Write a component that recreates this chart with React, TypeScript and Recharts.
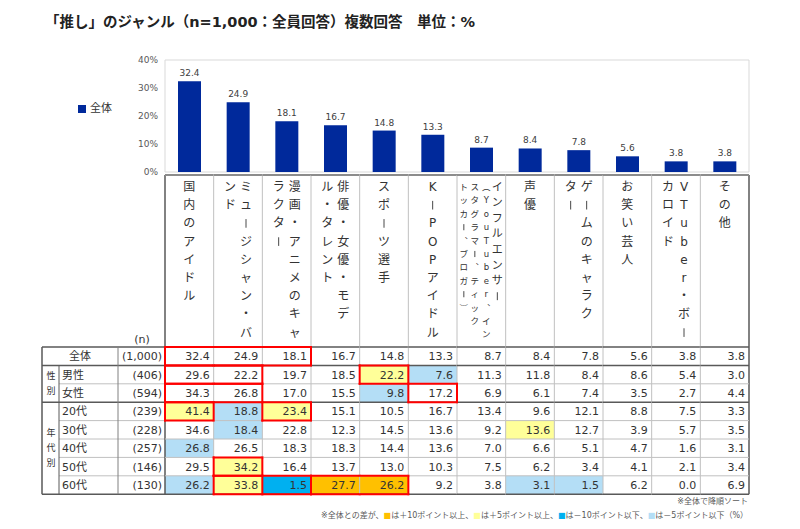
import React from "react";
import { BarChart, Bar, XAxis, YAxis, Legend, LabelList, ReferenceArea } from "recharts";

const categories = [
  "国内のアイドル",
  "ミュージシャン・バンド",
  "漫画・アニメのキャラクター",
  "俳優・女優・モデル・タレント",
  "スポーツ選手",
  "K-POPアイドル",
  "インフルエンサー（YouTuber、インスタグラマー、ティックトッカー、ブロガー）",
  "声優",
  "ゲームのキャラクター",
  "お笑い芸人",
  "VTuber・ボーカロイド",
  "その他",
];

// how each header is wrapped into vertical text columns (right to left)
const headerLines = [
  ["国内のアイドル"],
  ["ミュージシャン・バ", "ンド"],
  ["漫画・アニメのキャ", "ラクター"],
  ["俳優・女優・モデ", "ル・タレント"],
  ["スポーツ選手"],
  ["K-POPアイドル"],
  ["インフルエンサー", "（YouTuber、イン", "スタグラマー、ティック", "トッカー、ブロガー）"],
  ["声優"],
  ["ゲームのキャラク", "ター"],
  ["お笑い芸人"],
  ["VTuber・ボー", "カロイド"],
  ["その他"],
];

const overall = [32.4, 24.9, 18.1, 16.7, 14.8, 13.3, 8.7, 8.4, 7.8, 5.6, 3.8, 3.8];
const male = [29.6, 22.2, 19.7, 18.5, 22.2, 7.6, 11.3, 11.8, 8.4, 8.6, 5.4, 3.0];
const female = [34.3, 26.8, 17.0, 15.5, 9.8, 17.2, 6.9, 6.1, 7.4, 3.5, 2.7, 4.4];
const age20s = [41.4, 18.8, 23.4, 15.1, 10.5, 16.7, 13.4, 9.6, 12.1, 8.8, 7.5, 3.3];
const age30s = [34.6, 18.4, 22.8, 12.3, 14.5, 13.6, 9.2, 13.6, 12.7, 3.9, 5.7, 3.5];
const age40s = [26.8, 26.5, 18.3, 18.3, 14.4, 13.6, 7.0, 6.6, 5.1, 4.7, 1.6, 3.1];
const age50s = [29.5, 34.2, 16.4, 13.7, 13.0, 10.3, 7.5, 6.2, 3.4, 4.1, 2.1, 3.4];
const age60s = [26.2, 33.8, 1.5, 27.7, 26.2, 9.2, 3.8, 3.1, 1.5, 6.2, 0.0, 6.9];

const rowLabels = ["全体", "男性", "女性", "20代", "30代", "40代", "50代", "60代"];
const rowCounts = ["(1,000)", "(406)", "(594)", "(239)", "(228)", "(257)", "(146)", "(130)"];
const rows = [overall, male, female, age20s, age30s, age40s, age50s, age60s];

// red outlines: [row, first column, last column]
const redBoxes = [
  [0, 0, 2], [1, 0, 1], [1, 4, 4], [2, 0, 1], [2, 5, 5], [3, 0, 0], [3, 2, 2],
  [6, 1, 1], [7, 1, 1], [7, 2, 2], [7, 3, 4],
];

const chartData = categories.map((name, i) => ({ name, overall: overall[i] }));

const FONT = '"DejaVu Sans", "Noto Sans CJK JP", sans-serif';
const PLOT_LEFT = 165;
const PLOT_RIGHT = 749;
const BAND = (PLOT_RIGHT - PLOT_LEFT) / categories.length;
const HEAD_TOP = 175;
const BODY_TOP = 347;
const ROW_H = 18.4;
const rowY = (r: number) => BODY_TOP + r * ROW_H;
const TABLE_BOTTOM = rowY(rows.length);
const DARK = "#595959";
const GRID = "#c0c0c0";
const RED = "#ff0000";
const TEXT = "#333333";
const darkLines = new Set([0, 1, 3, rows.length]);

const VERT: Record<string, string> = { "（": "︵", "）": "︶", "、": "︑" };

function shade(r: number, c: number) {
  if (r === 0) return null;
  const d = Math.round((rows[r][c] - overall[c]) * 10) / 10;
  if (d >= 10) return "#ffc000";
  if (d >= 5) return "#ffff99";
  if (d <= -10) return "#00b0f0";
  if (d <= -5) return "#b4def6";
  return null;
}

function boxOf(r: number, c: number) {
  if (r < 0 || r >= rows.length || c < 0 || c >= categories.length) return -1;
  return redBoxes.findIndex(([br, from, to]) => br === r && c >= from && c <= to);
}

function VChar({ ch, x, y, fs }: { ch: string; x: number; y: number; fs: number }) {
  // long vowel marks and hyphens turn into a vertical stroke in vertical text
  if (ch === "ー" || ch === "-") {
    return <line x1={x} x2={x} y1={y - fs * 0.36} y2={y + fs * 0.36} stroke={TEXT} strokeWidth={0.9} />;
  }
  return (
    <text x={x} y={y} fontSize={fs} textAnchor="middle" dominantBaseline="central" fill={TEXT}>
      {VERT[ch] ?? ch}
    </text>
  );
}

function ColumnTick(props: any) {
  const { x, payload } = props;
  const c = categories.indexOf(payload.value);
  if (c < 0) return <g />;
  const left = x - BAND / 2;
  const right = x + BAND / 2;
  const last = c === categories.length - 1;
  const lines = headerLines[c];
  const wide = lines.length > 2;
  const els: React.ReactNode[] = [];

  lines.forEach((line, li) => {
    const small = wide && li > 0;
    const fs = wide ? (small ? 8.5 : 11) : 12;
    const step = wide ? (small ? 13.4 : 15.6) : 18.2;
    const lx = wide ? x + [16, 5, -6.5, -17.5][li] : x + ((lines.length - 1) / 2 - li) * 16;
    Array.from(line).forEach((ch, k) => {
      els.push(<VChar key={`h${li}-${k}`} ch={ch} x={lx} y={187 + k * step} fs={fs} />);
    });
  });

  rows.forEach((vals, r) => {
    const fill = shade(r, c);
    if (fill) {
      els.push(<rect key={`f${r}`} x={left} y={rowY(r)} width={BAND} height={ROW_H} fill={fill} />);
    }
  });

  els.push(<line key="vl" x1={left} x2={left} y1={HEAD_TOP} y2={TABLE_BOTTOM} stroke={c === 0 ? DARK : GRID} strokeWidth={c === 0 ? 1.5 : 1} />);
  if (last) {
    els.push(<line key="vr" x1={right} x2={right} y1={HEAD_TOP} y2={TABLE_BOTTOM} stroke={DARK} strokeWidth={1.5} />);
  }
  for (let i = 0; i <= rows.length; i++) {
    const dark = darkLines.has(i);
    els.push(<line key={`hl${i}`} x1={left} x2={right} y1={rowY(i)} y2={rowY(i)} stroke={dark ? DARK : GRID} strokeWidth={dark ? 1.5 : 1} />);
  }
  els.push(<line key="top" x1={left} x2={right} y1={HEAD_TOP} y2={HEAD_TOP} stroke="#8c8c8c" strokeWidth={2} />);

  rows.forEach((vals, r) => {
    els.push(
      <text key={`v${r}`} x={right - 4} y={rowY(r) + ROW_H / 2 + 0.5} fontSize={11} textAnchor="end"
        dominantBaseline="central" fill={TEXT}>
        {vals[c].toFixed(1)}
      </text>
    );
  });

  rows.forEach((_, r) => {
    const b = boxOf(r, c);
    const bl = boxOf(r, c - 1);
    const top = rowY(r);
    const bottom = rowY(r + 1);
    if (b !== bl && (b >= 0 || bl >= 0)) {
      els.push(<line key={`rl${r}`} x1={left} x2={left} y1={top} y2={bottom} stroke={RED} strokeWidth={2} strokeLinecap="square" />);
    }
    if (last && b >= 0) {
      els.push(<line key={`rr${r}`} x1={right} x2={right} y1={top} y2={bottom} stroke={RED} strokeWidth={2} strokeLinecap="square" />);
    }
    if (b >= 0 && boxOf(r - 1, c) !== b) {
      els.push(<line key={`rt${r}`} x1={left} x2={right} y1={top} y2={top} stroke={RED} strokeWidth={2} strokeLinecap="square" />);
    }
    if (b >= 0 && boxOf(r + 1, c) !== b) {
      els.push(<line key={`rb${r}`} x1={left} x2={right} y1={bottom} y2={bottom} stroke={RED} strokeWidth={2} strokeLinecap="square" />);
    }
  });

  return <g>{els}</g>;
}

function Frame() {
  const groups = [
    { label: "性別", from: 1, to: 3 },
    { label: "年代別", from: 3, to: 8 },
  ];
  return (
    <svg width={800} height={529} style={{ position: "absolute", left: 0, top: 0 }}>
      <text x={45} y={27} fontSize={14.5} fontWeight="bold" fill="#222">
        「推し」のジャンル（n=1,000：全員回答）複数回答　単位：%
      </text>
      <text x={142} y={339} fontSize={11} textAnchor="middle" dominantBaseline="central" fill={TEXT}>(n)</text>

      {rowLabels.map((label, r) => (
        <g key={label}>
          <text x={r === 0 ? 80 : 62} y={rowY(r) + ROW_H / 2 + 0.5} fontSize={11}
            textAnchor={r === 0 ? "middle" : "start"} dominantBaseline="central" fill={TEXT}>
            {label}
          </text>
          <text x={162} y={rowY(r) + ROW_H / 2 + 0.5} fontSize={11} textAnchor="end"
            dominantBaseline="central" fill={TEXT}>
            {rowCounts[r]}
          </text>
        </g>
      ))}

      {groups.map((g) => {
        const mid = (rowY(g.from) + rowY(g.to)) / 2;
        const chars = Array.from(g.label);
        return chars.map((ch, k) => (
          <text key={g.label + k} x={51} y={mid + (k - (chars.length - 1) / 2) * 15} fontSize={9}
            textAnchor="middle" dominantBaseline="central" fill={TEXT}>
            {ch}
          </text>
        ));
      })}

      {rows.map((_, i) => i).concat([rows.length]).map((i) => {
        const dark = darkLines.has(i);
        return (
          <line key={`h${i}`} x1={dark ? 42 : 59} x2={165} y1={rowY(i)} y2={rowY(i)}
            stroke={dark ? DARK : GRID} strokeWidth={dark ? 1.5 : 1} />
        );
      })}
      <line x1={42} x2={42} y1={rowY(0)} y2={TABLE_BOTTOM} stroke={DARK} strokeWidth={1.5} />
      <line x1={59} x2={59} y1={rowY(1)} y2={TABLE_BOTTOM} stroke={DARK} strokeWidth={1} />
      <line x1={118} x2={118} y1={rowY(0)} y2={TABLE_BOTTOM} stroke="#808080" strokeWidth={1} />

      <text x={748} y={504} fontSize={8} textAnchor="end" fill={DARK}>※全体で降順ソート</text>
      <text x={748} y={518} fontSize={8} textAnchor="end" fill={DARK}>
        ※全体との差が、<tspan fill="#ffc000">■</tspan>は＋10ポイント以上、
        <tspan fill="#ffff99">■</tspan>は＋5ポイント以上、
        <tspan fill="#00b0f0">■</tspan>は－10ポイント以下、
        <tspan fill="#b4def6">■</tspan>は－5ポイント以下（%）
      </text>
    </svg>
  );
}

export default function App() {
  return (
    <div style={{ position: "absolute", left: 0, top: 0, width: 800, height: 529, background: "#fff", fontFamily: FONT }}>
      <Frame />
      <div style={{ position: "absolute", left: 0, top: 0 }}>
        <BarChart width={800} height={500} data={chartData} margin={{ top: 60, right: 800 - PLOT_RIGHT, left: PLOT_LEFT - 60, bottom: 0 }}>
          <ReferenceArea y1={0} y2={40} fill="none" stroke="#d9d9d9" ifOverflow="visible" />
          <XAxis dataKey="name" height={328} interval={0} axisLine={false} tickLine={false}
            tickSize={0} tickMargin={0} tick={(p: any) => <ColumnTick {...p} />} />
          <YAxis domain={[0, 40]} ticks={[0, 10, 20, 30, 40]} width={60} axisLine={false} tickLine={false}
            tickSize={0} tickMargin={7} tickFormatter={(v: number) => `${v}%`}
            tick={{ fontSize: 9, fill: DARK }} />
          <Legend layout="horizontal" verticalAlign="middle" align="center" iconType="square" iconSize={8}
            wrapperStyle={{ left: 70, top: 99, width: 60, height: 16, fontSize: 11 }}
            formatter={(v: string) => <span style={{ color: TEXT }}>{v}</span>} />
          <Bar dataKey="overall" name="全体" fill="#00299b" barSize={23} isAnimationActive={false}>
            <LabelList dataKey="overall" position="top" fontSize={9} fill="#404040"
              formatter={(v: any) => Number(v).toFixed(1)} />
          </Bar>
        </BarChart>
      </div>
    </div>
  );
}
